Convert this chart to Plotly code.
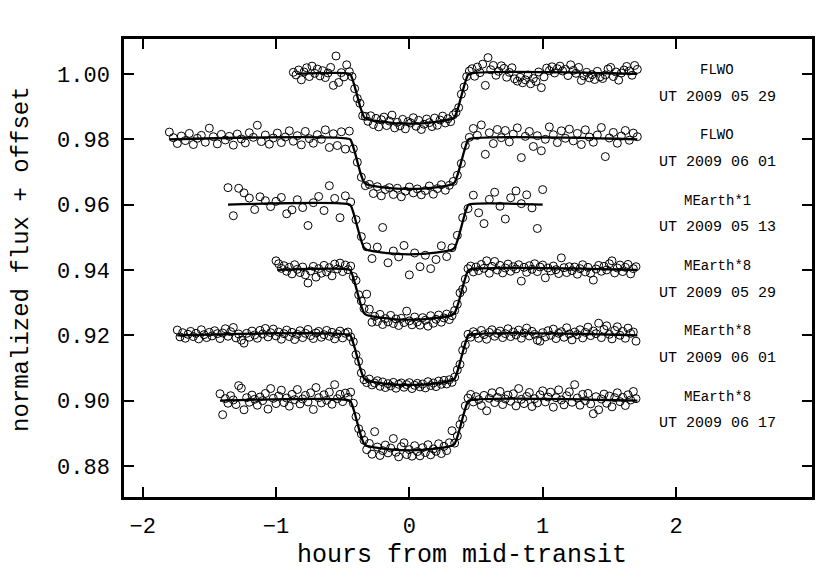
import plotly.graph_objects as go

# ---------------- data ----------------
base_levels = [1.00, 0.98, 0.96, 0.94, 0.92, 0.90]
instr_labels = ["FLWO", "FLWO", "MEarth*1", "MEarth*8", "MEarth*8", "MEarth*8"]
date_labels = ["UT 2009 05 29", "UT 2009 06 01", "UT 2009 05 13",
               "UT 2009 05 29", "UT 2009 06 01", "UT 2009 06 17"]

# model transit shape (hours, flux change in parts per thousand)
model_t = [-0.445, -0.43, -0.41, -0.39, -0.37, -0.355, -0.34, -0.32, -0.30, -0.25, -0.20, -0.10, 0.00,
           0.10, 0.20, 0.25, 0.30, 0.32, 0.34, 0.355, 0.37, 0.39, 0.41, 0.43, 0.445]
model_d = [0, -1.2, -3.8, -6.8, -9.8, -11.7, -13.2, -13.8, -14.0, -14.4, -14.7, -15.1, -15.2,
           -15.1, -14.7, -14.4, -14.0, -13.8, -13.2, -11.7, -9.8, -6.8, -3.8, -1.2, 0]
line_start = [-0.84, -1.80, -1.36, -0.99, -1.74, -1.42]
line_end = [1.71, 1.71, 1.00, 1.71, 1.71, 1.71]

# observations: (hours from mid-transit, flux change in ppt relative to offset level)
flwo_0529 = [(-0.87, 0.5), (-0.85, -0.3), (-0.83, 1.2), (-0.81, -1.8), (-0.79, 0.6), (-0.77, 1.9), (-0.75, -0.8),
    (-0.73, 2.4), (-0.71, 0.2), (-0.69, 1.5), (-0.67, -0.6), (-0.65, 1.0), (-0.63, -1.1), (-0.61, 0.3),
    (-0.59, 2.0), (-0.57, -3.5), (-0.55, 5.5), (-0.53, -2.6), (-0.51, 0.4), (-0.49, -0.9), (-0.47, 2.8),
    (-0.45, 0.7), (-0.43, -0.8), (-0.41, -4.5), (-0.39, -7.5), (-0.37, -9.0), (-0.35, -12.8), (-0.33, -13.0),
    (-0.31, -14.5), (-0.29, -12.8), (-0.27, -15.5), (-0.25, -13.6), (-0.23, -16.2), (-0.21, -14.0),
    (-0.19, -13.2), (-0.17, -15.8), (-0.15, -14.4), (-0.13, -12.6), (-0.11, -16.5), (-0.09, -14.8),
    (-0.07, -15.9), (-0.05, -13.9), (-0.03, -16.8), (-0.01, -14.6), (0.01, -15.0), (0.03, -13.4),
    (0.05, -16.0), (0.07, -14.2), (0.09, -17.0), (0.11, -15.4), (0.13, -13.8), (0.15, -14.9), (0.17, -16.1),
    (0.19, -13.5), (0.21, -15.7), (0.23, -14.1), (0.25, -12.9), (0.27, -15.0), (0.29, -13.7), (0.31, -14.6),
    (0.33, -12.5), (0.35, -11.8), (0.37, -10.3), (0.39, -6.2), (0.41, -4.0), (0.43, -0.8), (0.45, 0.9),
    (0.47, 1.6), (0.49, -0.7), (0.51, 2.1), (0.53, 0.4), (0.55, 3.0), (0.57, -3.5), (0.59, 5.0), (0.61, 1.3),
    (0.63, 2.6), (0.65, -0.4), (0.67, 0.8), (0.69, 2.5), (0.71, 1.7), (0.73, -1.0), (0.75, 0.5), (0.77, 1.9),
    (0.79, -1.5), (0.81, -2.2), (0.83, -1.0), (0.85, -2.7), (0.87, -1.8), (0.89, -0.3), (0.91, -3.0),
    (0.93, -1.4), (0.95, -2.3), (0.97, 0.6), (0.99, -4.2), (1.01, -0.9), (1.03, 1.8), (1.05, 1.0), (1.07, 2.2),
    (1.09, 0.3), (1.11, 1.6), (1.13, 2.4), (1.15, 0.9), (1.17, 1.4), (1.19, -0.5), (1.21, 2.8), (1.23, 1.1),
    (1.25, 0.2), (1.27, 2.0), (1.29, -2.0), (1.31, -0.6), (1.33, 0.5), (1.35, -1.2), (1.37, -0.2),
    (1.39, -1.7), (1.41, 0.8), (1.43, -0.9), (1.45, -1.4), (1.47, -0.3), (1.49, 1.5), (1.51, 2.0),
    (1.53, -0.8), (1.55, 0.6), (1.57, -1.9), (1.59, 0.3), (1.61, 1.2), (1.63, 2.3), (1.65, 0.9),
    (1.67, -0.4), (1.69, 2.6), (1.71, 1.4)]

flwo_0601 = [(-1.80, 2.2), (-1.77, 0.5), (-1.74, -1.3), (-1.71, 1.0), (-1.68, -0.4), (-1.65, 1.8), (-1.62, -1.6),
    (-1.59, 0.3), (-1.56, 1.2), (-1.53, -0.9), (-1.50, 3.4), (-1.47, 0.8), (-1.44, -1.4), (-1.41, 1.5),
    (-1.38, -0.2), (-1.35, 0.9), (-1.32, -1.8), (-1.29, 1.6), (-1.26, 0.1), (-1.23, -1.1), (-1.20, 2.0),
    (-1.17, 0.6), (-1.14, 4.3), (-1.11, -0.7), (-1.08, 1.3), (-1.05, -1.5), (-1.02, 0.4), (-0.99, 1.9),
    (-0.96, -1.0), (-0.93, 0.7), (-0.90, 2.6), (-0.87, -0.6), (-0.84, 1.1), (-0.81, -1.7), (-0.78, 2.4),
    (-0.75, 0.2), (-0.72, -1.2), (-0.69, 1.4), (-0.66, 0.0), (-0.63, 2.9), (-0.60, -2.5), (-0.57, 1.7),
    (-0.54, -1.9), (-0.51, 2.3), (-0.48, -3.0), (-0.45, 2.5), (-0.42, -2.9), (-0.39, -7.0), (-0.36, -11.6),
    (-0.33, -14.2), (-0.30, -13.8), (-0.27, -16.6), (-0.24, -14.5), (-0.21, -17.3), (-0.18, -15.4),
    (-0.15, -14.8), (-0.12, -16.9), (-0.09, -15.0), (-0.06, -17.6), (-0.03, -15.9), (0.00, -14.6),
    (0.03, -16.4), (0.06, -15.2), (0.09, -17.0), (0.12, -15.7), (0.15, -14.3), (0.18, -16.8), (0.21, -15.1),
    (0.24, -13.9), (0.27, -15.6), (0.30, -14.1), (0.33, -12.9), (0.36, -11.0), (0.39, -7.4), (0.42, -1.9),
    (0.45, 0.6), (0.48, 3.3), (0.51, 1.2), (0.54, 4.4), (0.57, -4.6), (0.60, 2.0), (0.63, -1.3), (0.66, 3.0),
    (0.69, 0.5), (0.72, 2.7), (0.75, -0.8), (0.78, 1.6), (0.81, 3.5), (0.84, -5.6), (0.87, 0.9), (0.90, 2.4),
    (0.93, -2.2), (0.96, 1.1), (0.99, -3.5), (1.02, 0.0), (1.05, 3.8), (1.08, 1.4), (1.11, -1.0), (1.14, 2.6),
    (1.17, 0.3), (1.20, 3.1), (1.23, -0.5), (1.26, 1.8), (1.29, -1.6), (1.32, 2.9), (1.35, 0.7), (1.38, -0.9),
    (1.41, 1.3), (1.44, 3.6), (1.47, -5.3), (1.50, 0.4), (1.53, 2.1), (1.56, -1.2), (1.59, 1.0), (1.62, 2.7),
    (1.65, -0.3), (1.68, 1.9), (1.71, 0.8)]

mearth1_0513 = [(-1.36, 5.2), (-1.32, -3.4), (-1.28, 5.0), (-1.24, 3.6), (-1.20, 2.0), (-1.16, -1.5),
    (-1.12, 2.4), (-1.08, 1.2), (-1.04, -0.6), (-1.00, 1.0), (-0.96, 2.2), (-0.92, -2.8), (-0.88, -1.6),
    (-0.84, 1.5), (-0.80, -0.9), (-0.76, -6.4), (-0.72, 0.6), (-0.68, 2.5), (-0.64, -1.8), (-0.60, 5.8),
    (-0.56, 1.9), (-0.52, -4.0), (-0.48, 2.7), (-0.44, 0.8), (-0.40, -4.6), (-0.36, -9.8), (-0.32, -12.9),
    (-0.28, -16.5), (-0.24, -13.0), (-0.20, -7.0), (-0.16, -17.8), (-0.12, -14.2), (-0.08, -16.0),
    (-0.04, -12.5), (0.00, -21.5), (0.04, -14.8), (0.08, -19.0), (0.12, -15.5), (0.16, -19.6), (0.20, -16.8),
    (0.24, -12.6), (0.28, -15.9), (0.32, -13.2), (0.36, -9.4), (0.40, -4.0), (0.44, -1.2), (0.48, 2.9),
    (0.52, -2.5), (0.56, -5.8), (0.60, 1.6), (0.64, 3.8), (0.68, -0.5), (0.72, -4.4), (0.76, 2.1),
    (0.80, 4.2), (0.84, 0.3), (0.88, 3.0), (0.92, -1.0), (0.96, -7.3), (1.00, 4.6)]

mearth8_0529 = [(-1.00, 2.8), (-0.98, 1.9), (-0.96, 0.5), (-0.94, 1.3), (-0.92, -0.4), (-0.90, 0.8),
    (-0.88, -1.2), (-0.86, 1.6), (-0.84, 0.2), (-0.82, -0.8), (-0.80, 0.9), (-0.78, -1.5), (-0.76, -4.0),
    (-0.74, -0.3), (-0.72, 1.1), (-0.70, -2.2), (-0.68, 0.4), (-0.66, -1.0), (-0.64, 1.4), (-0.62, -0.6),
    (-0.60, 0.7), (-0.58, -1.8), (-0.56, 1.8), (-0.54, 0.3), (-0.52, 2.1), (-0.50, -0.5), (-0.48, 1.5),
    (-0.46, 0.1), (-0.44, 1.2), (-0.42, -2.0), (-0.40, -3.2), (-0.38, -7.6), (-0.36, -9.5), (-0.34, -11.8),
    (-0.32, -7.4), (-0.30, -12.0), (-0.28, -16.0), (-0.26, -14.2), (-0.24, -15.8), (-0.22, -13.6),
    (-0.20, -16.7), (-0.18, -14.9), (-0.16, -15.9), (-0.14, -13.9), (-0.12, -16.4), (-0.10, -15.0),
    (-0.08, -17.0), (-0.06, -14.8), (-0.04, -16.1), (-0.02, -12.6), (0.00, -15.6), (0.02, -16.8),
    (0.04, -14.4), (0.06, -15.9), (0.08, -16.9), (0.10, -14.6), (0.12, -15.4), (0.14, -17.2), (0.16, -14.0),
    (0.18, -16.3), (0.20, -15.1), (0.22, -13.8), (0.24, -16.0), (0.26, -14.7), (0.28, -13.5), (0.30, -15.2),
    (0.32, -14.0), (0.34, -12.4), (0.36, -10.5), (0.38, -7.0), (0.40, -5.9), (0.42, -2.8), (0.44, 0.4),
    (0.46, 1.2), (0.48, -0.6), (0.50, 0.9), (0.52, -0.2), (0.54, 1.7), (0.56, 0.5), (0.58, 2.8), (0.60, -1.0),
    (0.62, 1.1), (0.64, 2.6), (0.66, 0.0), (0.68, 1.4), (0.70, -0.9), (0.72, 0.6), (0.74, 1.8), (0.76, -0.4),
    (0.78, 1.0), (0.80, 0.3), (0.82, 1.6), (0.84, -3.4), (0.86, 0.8), (0.88, -0.7), (0.90, 1.3), (0.92, 0.2),
    (0.94, 1.9), (0.96, -0.5), (0.98, 0.9), (1.00, 1.5), (1.02, -2.4), (1.04, 0.6), (1.06, -0.3), (1.08, 1.2),
    (1.10, 0.1), (1.12, -1.1), (1.14, 3.7), (1.16, 0.7), (1.18, -0.8), (1.20, 1.0), (1.22, -0.2), (1.24, 0.9),
    (1.26, -1.3), (1.28, 0.4), (1.30, 1.6), (1.32, -0.6), (1.34, 0.8), (1.36, -1.0), (1.38, -3.1), (1.40, 0.3),
    (1.42, 1.4), (1.44, -0.4), (1.46, 1.1), (1.48, 0.0), (1.50, 1.9), (1.52, 2.8), (1.54, -0.9), (1.56, 0.6),
    (1.58, 1.5), (1.60, -0.5), (1.62, 0.8), (1.64, 1.7), (1.66, -1.2), (1.68, 0.4), (1.70, 1.0)]

mearth8_0601 = [(-1.74, 1.6), (-1.72, -0.5), (-1.70, 0.8), (-1.68, -0.9), (-1.66, 0.3), (-1.64, 1.2),
    (-1.62, -0.4), (-1.60, 0.6), (-1.58, -1.1), (-1.56, 1.7), (-1.54, 0.2), (-1.52, -0.7), (-1.50, 0.9),
    (-1.48, -0.2), (-1.46, 1.4), (-1.44, 0.5), (-1.42, -1.0), (-1.40, 0.7), (-1.38, 2.0), (-1.36, -0.3),
    (-1.34, 1.1), (-1.32, 2.4), (-1.30, -0.8), (-1.28, 0.4), (-1.26, -1.5), (-1.24, -2.4), (-1.22, 0.6),
    (-1.20, -0.6), (-1.18, 1.3), (-1.16, 0.1), (-1.14, -0.9), (-1.12, 1.5), (-1.10, 0.4), (-1.08, 2.1),
    (-1.06, -0.5), (-1.04, 0.8), (-1.02, 1.9), (-1.00, -0.2), (-0.98, 1.0), (-0.96, -1.2), (-0.94, 0.5),
    (-0.92, 1.6), (-0.90, -0.4), (-0.88, 0.9), (-0.86, -1.3), (-0.84, 0.3), (-0.82, 1.4), (-0.80, -0.7),
    (-0.78, 0.6), (-0.76, 1.8), (-0.74, -0.1), (-0.72, -1.0), (-0.70, 0.7), (-0.68, 1.2), (-0.66, -0.6),
    (-0.64, 0.2), (-0.62, 1.5), (-0.60, -0.3), (-0.58, 0.9), (-0.56, -1.1), (-0.54, 0.4), (-0.52, 1.3),
    (-0.50, -0.8), (-0.48, 0.6), (-0.46, 1.0), (-0.44, -0.5), (-0.42, -2.0), (-0.40, -5.9), (-0.38, -8.0),
    (-0.36, -11.5), (-0.34, -13.6), (-0.32, -14.5), (-0.30, -13.4), (-0.28, -15.2), (-0.26, -14.6),
    (-0.24, -13.9), (-0.22, -15.6), (-0.20, -14.3), (-0.18, -16.0), (-0.16, -14.8), (-0.14, -15.5),
    (-0.12, -14.4), (-0.10, -16.2), (-0.08, -15.0), (-0.06, -14.6), (-0.04, -15.9), (-0.02, -15.1),
    (0.00, -14.5), (0.02, -16.3), (0.04, -15.3), (0.06, -14.7), (0.08, -15.8), (0.10, -14.9), (0.12, -16.1),
    (0.14, -14.2), (0.16, -15.4), (0.18, -14.6), (0.20, -15.7), (0.22, -14.0), (0.24, -15.0), (0.26, -13.8),
    (0.28, -14.9), (0.30, -13.6), (0.32, -14.4), (0.34, -12.8), (0.36, -10.6), (0.38, -8.9), (0.40, -4.6),
    (0.42, -2.9), (0.44, 0.3), (0.46, -0.6), (0.48, 1.1), (0.50, 0.4), (0.52, -0.9), (0.54, 1.5), (0.56, 0.2),
    (0.58, -1.2), (0.60, 0.9), (0.62, 1.7), (0.64, -0.3), (0.66, 0.6), (0.68, 1.3), (0.70, -0.7), (0.72, 0.5),
    (0.74, 2.0), (0.76, -0.4), (0.78, 1.0), (0.80, 0.1), (0.82, 1.6), (0.84, -0.9), (0.86, 0.7), (0.88, 2.2),
    (0.90, -0.2), (0.92, 1.2), (0.94, 0.3), (0.96, -1.5), (0.98, -1.8), (1.00, 0.8), (1.02, -0.5), (1.04, 1.4),
    (1.06, 0.0), (1.08, 1.9), (1.10, -1.0), (1.12, 0.6), (1.14, 1.1), (1.16, -0.6), (1.18, 2.3), (1.20, 0.4),
    (1.22, -1.4), (1.24, 1.0), (1.26, 0.2), (1.28, 1.7), (1.30, -0.8), (1.32, 0.9), (1.34, 2.5), (1.36, -0.1),
    (1.38, 1.3), (1.40, 0.5), (1.42, 3.7), (1.44, -0.7), (1.46, 1.8), (1.48, 2.9), (1.50, 0.3), (1.52, -1.1),
    (1.54, 1.5), (1.56, 2.6), (1.58, 0.0), (1.60, 1.2), (1.62, -0.9), (1.64, 2.2), (1.66, 0.6), (1.68, 1.0),
    (1.70, -1.8)]

mearth8_0617 = [(-1.42, 2.1), (-1.40, -4.3), (-1.38, 0.6), (-1.36, -0.8), (-1.34, 1.5), (-1.32, 0.2),
    (-1.30, -1.2), (-1.28, 4.6), (-1.26, 3.8), (-1.24, -2.8), (-1.22, 0.9), (-1.20, -0.5), (-1.18, 1.7),
    (-1.16, 0.4), (-1.14, -1.4), (-1.12, 1.1), (-1.10, 0.0), (-1.08, 2.2), (-1.06, -2.6), (-1.04, 3.7),
    (-1.02, 0.7), (-1.00, -0.9), (-0.98, 1.4), (-0.96, 3.2), (-0.94, -0.6), (-0.92, 0.8), (-0.90, -1.7),
    (-0.88, 1.9), (-0.86, 0.3), (-0.84, 3.4), (-0.82, -1.0), (-0.80, 0.5), (-0.78, 1.6), (-0.76, -0.4),
    (-0.74, 2.4), (-0.72, -2.7), (-0.70, 4.0), (-0.68, 0.9), (-0.66, -0.7), (-0.64, 1.8), (-0.62, 0.1),
    (-0.60, 2.6), (-0.58, -1.1), (-0.56, 4.9), (-0.54, 0.6), (-0.52, 1.9), (-0.50, -0.3), (-0.48, 2.3),
    (-0.46, 1.0), (-0.44, 2.6), (-0.42, -0.8), (-0.40, -4.9), (-0.38, -8.6), (-0.36, -10.2), (-0.34, -12.1),
    (-0.32, -15.0), (-0.30, -13.1), (-0.28, -16.4), (-0.26, -9.5), (-0.24, -14.2), (-0.22, -16.8),
    (-0.20, -15.3), (-0.18, -13.6), (-0.16, -16.0), (-0.14, -14.5), (-0.12, -11.6), (-0.10, -15.8),
    (-0.08, -17.2), (-0.06, -14.1), (-0.04, -12.9), (-0.02, -16.5), (0.00, -15.0), (0.02, -17.0),
    (0.04, -13.8), (0.06, -15.6), (0.08, -16.9), (0.10, -14.4), (0.12, -15.9), (0.14, -13.5), (0.16, -16.6),
    (0.18, -14.8), (0.20, -15.5), (0.22, -13.2), (0.24, -16.2), (0.26, -14.0), (0.28, -15.3), (0.30, -12.9),
    (0.32, -9.2), (0.34, -13.0), (0.36, -10.8), (0.38, -7.3), (0.40, -5.5), (0.42, -1.6), (0.44, 0.8),
    (0.46, 1.9), (0.48, -0.4), (0.50, 1.2), (0.52, 0.3), (0.54, -1.5), (0.56, 1.6), (0.58, -3.1), (0.60, 0.7),
    (0.62, 2.4), (0.64, -0.6), (0.66, 1.0), (0.68, 2.8), (0.70, -1.2), (0.72, 0.5), (0.74, 1.7), (0.76, -0.2),
    (0.78, 2.1), (0.80, -1.6), (0.82, 3.7), (0.84, 0.4), (0.86, -0.9), (0.88, 1.3), (0.90, 2.5), (0.92, -1.8),
    (0.94, 0.6), (0.96, -0.7), (0.98, 1.8), (1.00, 3.0), (1.02, -0.4), (1.04, 1.1), (1.06, 2.6), (1.08, -2.0),
    (1.10, 0.9), (1.12, 3.3), (1.14, 0.2), (1.16, -1.3), (1.18, 1.5), (1.20, 2.7), (1.22, -0.5), (1.24, 4.9),
    (1.26, 0.8), (1.28, -1.4), (1.30, 1.9), (1.32, 0.0), (1.34, 2.2), (1.36, -1.0), (1.38, -4.0), (1.40, 1.2),
    (1.42, -2.8), (1.44, 0.5), (1.46, 2.0), (1.48, -0.8), (1.50, 1.4), (1.52, -1.9), (1.54, 0.9), (1.56, 2.4),
    (1.58, -0.3), (1.60, 1.0), (1.62, -1.5), (1.64, 1.8), (1.66, 0.2), (1.68, 2.8), (1.70, 0.6)]

observations = [flwo_0529, flwo_0601, mearth1_0513, mearth8_0529, mearth8_0601, mearth8_0617]

# ---------------- figure ----------------
FONT = "Liberation Mono"
fig = go.Figure()

for i, obs in enumerate(observations):
    base = base_levels[i]
    fig.add_trace(go.Scatter(
        x=[p[0] for p in obs], y=[base + p[1] / 1000.0 for p in obs],
        mode="markers",
        marker=dict(symbol="circle-open", size=8, color="black", line=dict(width=1, color="black")),
        showlegend=False, hoverinfo="skip"))

for i, base in enumerate(base_levels):
    lx = [line_start[i]] + model_t + [line_end[i]]
    ly = [base] + [base + d / 1000.0 for d in model_d] + [base]
    fig.add_trace(go.Scatter(x=lx, y=ly, mode="lines",
                             line=dict(color="black", width=2.3, shape="spline", smoothing=0.6),
                             showlegend=False, hoverinfo="skip"))

annotations = []
for i, base in enumerate(base_levels):
    annotations.append(dict(x=2.31, y=base + 0.0012, xref="x", yref="y", text=instr_labels[i],
                            showarrow=False, xanchor="center", yanchor="middle",
                            font=dict(family=FONT, size=14, color="black")))
    annotations.append(dict(x=2.31, y=base - 0.0071, xref="x", yref="y", text=date_labels[i],
                            showarrow=False, xanchor="center", yanchor="middle",
                            font=dict(family=FONT, size=15, color="black")))
# axis titles as annotations so that they sit exactly where the original has them
annotations.append(dict(x=-0.148, y=0.52, xref="paper", yref="paper", text="normalized flux + offset",
                        textangle=-90, showarrow=False, xanchor="center", yanchor="middle",
                        font=dict(family=FONT, size=24, color="black")))
annotations.append(dict(x=0.491, y=-0.127, xref="paper", yref="paper", text="hours from mid-transit",
                        showarrow=False, xanchor="center", yanchor="middle",
                        font=dict(family=FONT, size=25, color="black")))

# the page body keeps an 8px default margin, so the figure is sized to fit inside the window
fig.update_layout(
    width=812, height=564,
    margin=dict(l=116, r=8, t=31, b=75),
    paper_bgcolor="white", plot_bgcolor="white",
    font=dict(family=FONT, color="black"),
    annotations=annotations,
    xaxis=dict(range=[-2.14, 3.02], tickvals=[-2, -1, 0, 1, 2], ticks="inside", ticklen=10, tickwidth=2,
               tickcolor="black", showline=True, linewidth=2.5, linecolor="black", mirror="allticks",
               showgrid=False, zeroline=False, tickfont=dict(family=FONT, size=22),
               ticklabelstandoff=7, automargin=False),
    yaxis=dict(range=[0.8705, 1.0107], tickvals=base_levels + [0.88], tickformat=".2f", ticks="inside",
               ticklen=10, tickwidth=2, tickcolor="black", showline=True, linewidth=2.5, linecolor="black",
               mirror="allticks", showgrid=False, zeroline=False, tickfont=dict(family=FONT, size=22),
               ticklabelstandoff=7, automargin=False),
)

fig.write_html("out.html")
